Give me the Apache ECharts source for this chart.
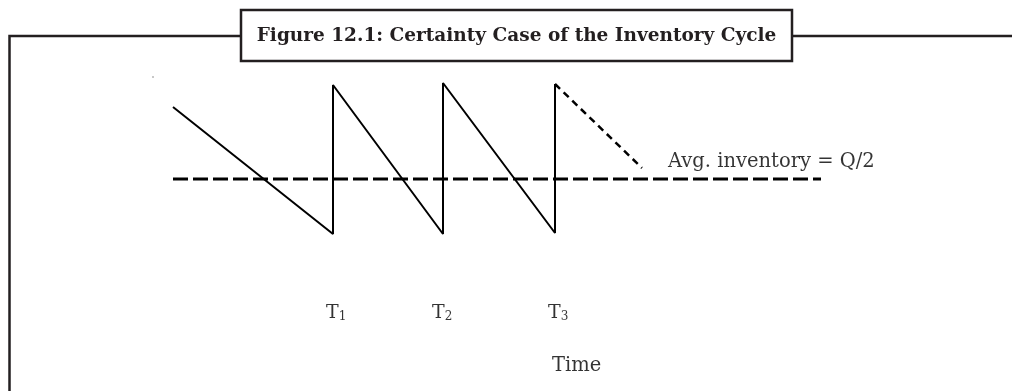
<!DOCTYPE html>
<html>
<head>
<meta charset="utf-8">
<script src="https://cdn.jsdelivr.net/npm/echarts@6/dist/echarts.min.js"></script>
<style>
  html, body { margin: 0; background: #fff; }
  #chart { width: 1012px; height: 391px; }
</style>
</head>
<body>
<div id="chart"></div>
<script>
// sawtooth inventory: time (arbitrary units) vs stock level
const cycleTimes = [0, 16, 16, 27, 27, 38.2, 38.2]
const cycleLevels = [127, 0, 149, 0, 151, 1, 150]
// projected next draw-down (dashed)
const projTimes = [38.2, 46.9]
const projLevels = [150, 66]
// average inventory line
const avgTimes = [0, 64.8]
const avgLevel = 55
// T labels under the reorder points
const tickSubs = ['1', '2', '3']
const tickTimes = [15.3, 25.9, 37.5]
const tickLevel = -79
const timeLabel = { text: 'Time', t: 37.9, level: -132 }
const avgLabel = { text: 'Avg. inventory = Q/2', t: 49.5, level: 72 }

const titleText = 'Figure 12.1: Certainty Case of the Inventory Cycle'
const ink = '#000'
const frameInk = '#231f20'
const serif = 'DejaVu Serif'

const pairs = (xs, ys) => xs.map((x, i) => [x, Array.isArray(ys) ? ys[i] : ys])

const chart = echarts.init(document.getElementById('chart'))
chart.setOption({
  animation: false,
  grid: { left: 173, right: 189, top: 79, bottom: 157 },
  xAxis: { type: 'value', min: 0, max: 65, show: false },
  yAxis: { type: 'value', min: 0, max: 155, show: false },
  graphic: [
    { type: 'polyline', shape: { points: [[241, 36], [9.5, 36], [9.5, 395]] },
      style: { stroke: frameInk, lineWidth: 2.5, fill: null } },
    { type: 'line', shape: { x1: 792, y1: 36, x2: 1015, y2: 36 },
      style: { stroke: frameInk, lineWidth: 2.5 } },
    { type: 'rect', shape: { x: 241, y: 10, width: 551, height: 51 },
      style: { stroke: frameInk, lineWidth: 2.5, fill: '#fff' } },
    { type: 'text', x: 516.5, y: 36,
      style: { text: titleText, fill: frameInk, fontFamily: serif, fontWeight: 'bold', fontSize: 18.5,
        textAlign: 'center', textVerticalAlign: 'middle' } },
    { type: 'circle', shape: { cx: 153, cy: 77, r: 0.7 }, style: { fill: '#666' } }
  ],
  series: [
    {
      type: 'line', data: pairs(avgTimes, avgLevel), showSymbol: false,
      lineStyle: { color: '#000', width: 3, type: [15, 5] }
    },
    {
      type: 'line', data: pairs(cycleTimes, cycleLevels), showSymbol: false,
      lineStyle: { color: '#000', width: 2 }
    },
    {
      type: 'line', data: pairs(projTimes, projLevels), showSymbol: false,
      lineStyle: { color: '#000', width: 2.5, type: [7, 5] }
    },
    {
      type: 'scatter', symbolSize: 0, clip: false, silent: true,
      data: tickTimes.map((t, i) => ({ value: [t, tickLevel], sub: tickSubs[i] })),
      label: {
        show: true, position: 'right', distance: 0, color: ink,
        formatter: p => `{t|T}{s|${p.data.sub}}`,
        rich: {
          t: { fontFamily: serif, fontSize: 19, lineHeight: 20, color: ink, verticalAlign: 'bottom' },
          s: { fontFamily: serif, fontSize: 12, lineHeight: 12, color: ink, verticalAlign: 'bottom' }
        }
      }
    },
    {
      type: 'scatter', symbolSize: 0, clip: false, silent: true,
      data: [timeLabel, avgLabel].map(a => ({ value: [a.t, a.level], name: a.text })),
      label: {
        show: true, position: 'right', distance: 0, color: ink,
        fontFamily: serif, fontSize: 19.5, formatter: p => p.name
      }
    }
  ]
})
</script>
</body>
</html>
